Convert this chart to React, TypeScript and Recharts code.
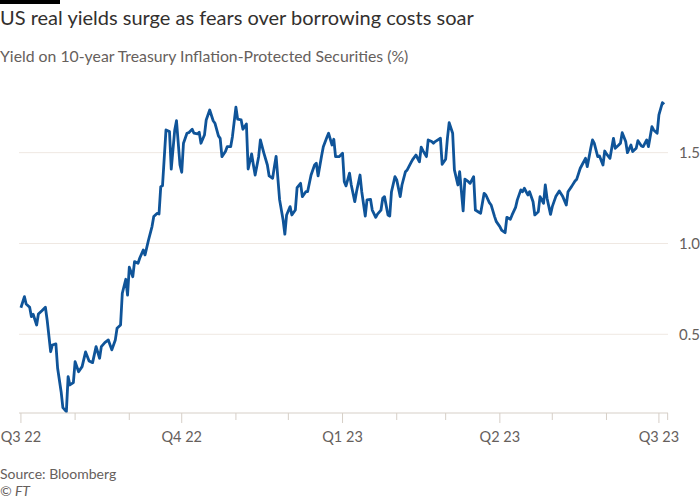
import { LineChart, Line, XAxis, YAxis, ReferenceLine } from "recharts";

// days since 1 Jul 2022
const dayOffsets = [
  0, 2, 3, 5, 6, 7, 9, 10, 12, 14, 15, 17, 18, 20, 21, 23, 24, 26, 27, 28,
  30, 31, 33, 35, 37, 39, 41, 43, 45, 46, 48, 50, 52, 54, 55, 57, 58, 60, 61, 62,
  64, 65, 67, 68, 70, 71, 73, 75, 76, 78, 79, 80, 81, 83, 85, 86, 88, 89, 91, 92,
  93, 95, 96, 98, 99, 101, 102, 103, 105, 106, 108, 110, 111, 113, 114, 115, 117, 118, 120, 121,
  123, 124, 126, 127, 129, 130, 132, 133, 134, 136, 137, 139, 141, 142, 144, 145, 146, 148, 150, 151,
  152, 154, 155, 157, 158, 160, 161, 163, 164, 166, 168, 169, 170, 172, 173, 175, 176, 178, 179, 180,
  182, 184, 185, 186, 188, 189, 191, 192, 194, 195, 197, 198, 200, 201, 203, 204, 206, 207, 208, 210,
  211, 212, 214, 215, 217, 218, 220, 221, 223, 224, 226, 228, 229, 230, 232, 233, 235, 236, 237, 240,
  241, 243, 244, 245, 247, 248, 250, 251, 253, 254, 256, 257, 259, 260, 262, 263, 265, 266, 268, 269,
  271, 272, 274, 275, 277, 278, 280, 281, 283, 284, 286, 287, 288, 290, 291, 293, 294, 296, 297, 299,
  300, 301, 303, 304, 306, 308, 310, 312, 313, 315, 317, 318, 320, 321, 323, 324, 326, 327, 328, 330,
  331, 333, 334, 335, 337, 339, 340, 342, 343, 344, 346, 347, 349, 350, 352, 353, 355, 356, 358, 359,
  361, 362, 364, 365, 367, 368,
];

const yields = [
  0.646, 0.707, 0.667, 0.649, 0.597, 0.61, 0.551, 0.612, 0.63, 0.649, 0.579, 0.404, 0.441, 0.447, 0.313, 0.184, 0.096, 0.074, 0.267, 0.221,
  0.234, 0.349, 0.294, 0.322, 0.403, 0.353, 0.344, 0.432, 0.368, 0.432, 0.454, 0.469, 0.414, 0.469, 0.533, 0.551, 0.726, 0.803, 0.716, 0.869,
  0.817, 0.9, 0.891, 0.92, 0.964, 0.937, 1.019, 1.093, 1.148, 1.166, 1.162, 1.313, 1.318, 1.625, 1.616, 1.409, 1.625, 1.676, 1.432, 1.392,
  1.552, 1.607, 1.61, 1.629, 1.607, 1.603, 1.612, 1.552, 1.597, 1.68, 1.735, 1.676, 1.662, 1.592, 1.579, 1.478, 1.506, 1.533, 1.533, 1.588,
  1.75, 1.684, 1.68, 1.629, 1.658, 1.41, 1.493, 1.432, 1.377, 1.478, 1.57, 1.497, 1.432, 1.372, 1.359, 1.423, 1.48, 1.24, 1.129, 1.051,
  1.157, 1.203, 1.157, 1.184, 1.307, 1.331, 1.258, 1.285, 1.285, 1.377, 1.432, 1.442, 1.372, 1.482, 1.533, 1.583, 1.607, 1.542, 1.574, 1.478,
  1.478, 1.497, 1.34, 1.317, 1.387, 1.322, 1.23, 1.285, 1.377, 1.285, 1.151, 1.24, 1.243, 1.184, 1.144, 1.162, 1.184, 1.249, 1.258, 1.157,
  1.151, 1.285, 1.368, 1.35, 1.258, 1.322, 1.395, 1.405, 1.442, 1.46, 1.487, 1.45, 1.53, 1.511, 1.478, 1.57, 1.561, 1.552, 1.561, 1.579,
  1.436, 1.464, 1.579, 1.665, 1.607, 1.405, 1.322, 1.395, 1.179, 1.354, 1.34, 1.331, 1.368, 1.184, 1.172, 1.166, 1.276, 1.267, 1.225, 1.212,
  1.148, 1.12, 1.093, 1.074, 1.059, 1.144, 1.133, 1.157, 1.199, 1.24, 1.295, 1.285, 1.304, 1.267, 1.285, 1.23, 1.157, 1.175, 1.258, 1.221,
  1.322, 1.249, 1.16, 1.203, 1.258, 1.289, 1.258, 1.212, 1.285, 1.313, 1.344, 1.354, 1.414, 1.432, 1.469, 1.423, 1.524, 1.57, 1.552, 1.478,
  1.482, 1.432, 1.509, 1.493, 1.469, 1.579, 1.524, 1.542, 1.552, 1.61, 1.561, 1.5, 1.542, 1.506, 1.524, 1.566, 1.537, 1.533, 1.57, 1.533,
  1.643, 1.625, 1.607, 1.708, 1.775, 1.766,
];

const quarterLabels = ["Q3 22", "Q4 22", "Q1 23", "Q2 23", "Q3 23"];
const yTicks = [0.5, 1.0, 1.5];

const START = Date.UTC(2022, 6, 1);
const DAY = 86400000;

// month starts Jul 2022 .. Jul 2023, plus the axis end
const monthTicks = Array.from({ length: 13 }, (_, m) => (Date.UTC(2022, 6 + m, 1) - START) / DAY);
const tickValues = [...monthTicks, 370];
const labelFor = (v: number) => {
  const i = monthTicks.indexOf(v);
  return i >= 0 && i % 3 === 0 ? quarterLabels[i / 3] : null;
};

const data = dayOffsets.map((d, i) => ({ d, v: yields[i] }));

const FONT = "Lato, 'Noto Sans', sans-serif";
const GREY = "#66605c";

function MonthTick({ x, y, payload }: any) {
  const label = labelFor(payload.value);
  return (
    <g>
      <line x1={x} x2={x} y1={y} y2={y + (label ? 10 : 7)} stroke="#d6cfc7" />
      {label && (
        <text x={x} y={y + 29} textAnchor="middle" fill={GREY} fontSize={14.5} fontFamily={FONT}>
          {label}
        </text>
      )}
    </g>
  );
}

export default function App() {
  return (
    <div style={{ position: "absolute", left: 0, top: 0, width: 700, height: 500, background: "#fff", fontFamily: FONT }}>
      <div style={{ position: "absolute", left: 0, top: 0, width: 60, height: 4, background: "#000" }} />
      <div style={{ position: "absolute", left: 0, top: 5, fontSize: 20, color: "#33302e", whiteSpace: "nowrap" }}>
        US real yields surge as fears over borrowing costs soar
      </div>
      <div style={{ position: "absolute", left: 0, top: 46, fontSize: 15.8, color: GREY, whiteSpace: "nowrap" }}>
        Yield on 10-year Treasury Inflation-Protected Securities (%)
      </div>
      <div style={{ position: "absolute", left: 0, top: 0 }}>
        <LineChart width={700} height={450} data={data} margin={{ top: 90, right: 0, left: 19, bottom: 0 }}>
          {yTicks.map((t) => (
            <ReferenceLine key={t} y={t} stroke="#efe8e2" />
          ))}
          <XAxis
            dataKey="d"
            type="number"
            domain={[-1.1, 370.2]}
            ticks={tickValues}
            interval={0}
            height={37}
            tickSize={0}
            tickMargin={0}
            tickLine={false}
            axisLine={{ stroke: "#d6cfc7" }}
            tick={<MonthTick />}
            allowDataOverflow
          />
          <YAxis
            orientation="right"
            type="number"
            domain={[0.0666, 1.845]}
            ticks={yTicks}
            width={32}
            axisLine={false}
            tickLine={false}
            tickMargin={5}
            tickFormatter={(v: number) => v.toFixed(1)}
            tick={{ fill: GREY, fontSize: 15, fontFamily: FONT }}
            allowDataOverflow
          />
          <Line
            type="linear"
            dataKey="v"
            stroke="#0f5499"
            strokeWidth={2.8}
            dot={false}
            isAnimationActive={false}
            strokeLinejoin="round"
          />
        </LineChart>
      </div>
      <div style={{ position: "absolute", left: 0, top: 465, fontSize: 14, color: GREY }}>Source: Bloomberg</div>
      <div style={{ position: "absolute", left: 0, top: 482, fontSize: 14, color: GREY, fontStyle: "italic" }}>© FT</div>
    </div>
  );
}
